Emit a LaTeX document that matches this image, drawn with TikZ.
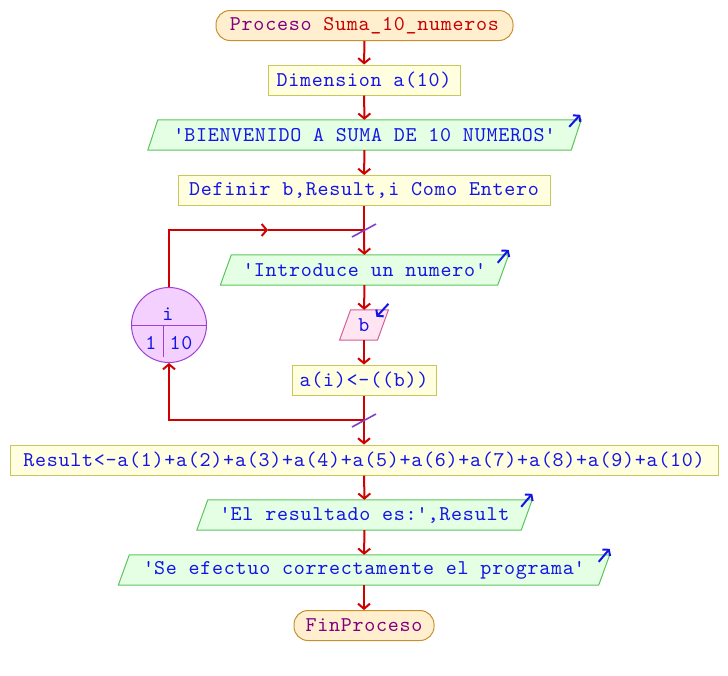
\documentclass[tikz,border=0pt]{standalone}
\usepackage{fontspec}
\setmonofont{lmmono10-regular}[Extension=.otf, LetterSpace=3.5, Ligatures=NoCommon]
\usetikzlibrary{arrows.meta,calc,backgrounds}

\definecolor{flowred}{HTML}{D00000}
\definecolor{txtblue}{HTML}{1414E6}
\definecolor{kwpurple}{HTML}{800080}
\definecolor{namered}{HTML}{C80000}
\definecolor{termfill}{HTML}{FFEFCF}
\definecolor{termline}{HTML}{C8902C}
\definecolor{procfill}{HTML}{FFFFE0}
\definecolor{procline}{HTML}{C8C85A}
\definecolor{iofill}{HTML}{E4FFE4}
\definecolor{ioline}{HTML}{5CC45C}
\definecolor{infill}{HTML}{FFE4F2}
\definecolor{inline}{HTML}{D0609A}
\definecolor{forfill}{HTML}{F4D0FF}
\definecolor{forline}{HTML}{A040D0}
\definecolor{joinmark}{HTML}{8040C8}

\newcommand\sq{\textquotesingle}

% parallelogram drawn behind a text node: #1 node, #2 half slant, #3 fill, #4 border
\newcommand\slantbox[4]{%
  \begin{scope}[on background layer]
    \draw[fill=#3, draw=#4, line width=1pt]
      ($(#1.north west)+(#2,0)$) -- ($(#1.north east)+(#2,0)$) --
      ($(#1.south east)-(#2,0)$) -- ($(#1.south west)-(#2,0)$) -- cycle;
  \end{scope}}

\begin{document}
\begin{tikzpicture}[x=1pt, y=-1pt,
  font=\ttfamily\fontsize{21}{24}\selectfont,
  link/.style={draw=flowred, line width=2pt},
  flow/.style={link, -{Straight Barb[length=5pt,width=12pt,line width=2pt]}},
  ioarrow/.style={draw=txtblue, line width=2pt, -{Straight Barb[length=4pt,width=10pt,line width=2pt]}},
  joinslash/.style={draw=joinmark, line width=1.6pt},
  term/.style={draw=termline, fill=termfill, line width=1pt, rounded corners=14pt,
    minimum height=30, inner sep=0pt, text=kwpurple},
  proc/.style={draw=procline, fill=procfill, line width=1pt,
    minimum height=30, inner sep=0pt, text=txtblue},
  iotext/.style={minimum height=30, inner sep=0pt, text=txtblue},
  loopnode/.style={circle, draw=forline, fill=forfill, line width=1pt,
    minimum size=75, inner sep=0pt}
]
\useasboundingbox (0,0) rectangle (728,675);

% main column
\node[term, minimum width=297] (start) at (364.5,25.5)
  {Proceso \textcolor{namered}{Suma\_10\_numeros}};
\node[proc, minimum width=192] (dim) at (364,80) {Dimension a(10)};
\node[iotext, minimum width=423] (welcome) at (364.5,135)
  {\sq BIENVENIDO A SUMA DE 10 NUMEROS\sq};
\slantbox{welcome}{5}{iofill}{ioline}
\node[proc, minimum width=372] (defs) at (364,190.5) {Definir b,Result,i Como Entero};

\coordinate (jtop) at (364,230);
\node[iotext, minimum width=277] (ask) at (364.5,270) {\sq Introduce un numero\sq};
\slantbox{ask}{5.5}{iofill}{ioline}
\node[iotext, minimum width=37.5] (readb) at (364,325) {b};
\slantbox{readb}{5.5}{infill}{inline}
\node[proc, minimum width=144] (store) at (364,380) {a(i)<-((b))};
\coordinate (jbot) at (364,420);

\node[proc, minimum width=708] (sum) at (364,460)
  {Result<-a(1)+a(2)+a(3)+a(4)+a(5)+a(6)+a(7)+a(8)+a(9)+a(10)};
\node[iotext, minimum width=324] (show) at (364.5,515) {\sq El resultado es:\sq,Result};
\slantbox{show}{5.5}{iofill}{ioline}
\node[iotext, minimum width=480] (done) at (364,570)
  {\sq Se efectuo correctamente el programa\sq};
\slantbox{done}{5.5}{iofill}{ioline}
\node[term, minimum width=140] (stop) at (364,625.5) {FinProceso};

% loop counter
\node[loopnode] (loop) at (169,325) {};
\draw[forline, line width=1pt] (loop.west) -- (loop.east);
\coordinate (lsplit) at (163.5,325);
\coordinate (lsplitend) at (163.5,357);
\draw[forline, line width=1pt] (lsplit) -- (lsplitend);
\node[text=txtblue, inner sep=0pt] (lvar) at (168,314) {i};
\node[text=txtblue, inner sep=0pt] (lfrom) at (151,343) {1};
\node[text=txtblue, inner sep=0pt] (lto) at (181,343) {10};

% connectors
\draw[flow] (start) -- (dim);
\draw[flow] (dim) -- (welcome);
\draw[flow] (welcome) -- (defs);
\draw[link] (defs) -- (jtop);
\draw[flow] (jtop) -- (ask);
\draw[flow] (ask) -- (readb);
\draw[flow] (readb) -- (store);
\draw[link] (store) -- (jbot);
\draw[flow] (jbot) -- (sum);
\draw[flow] (sum) -- (show);
\draw[flow] (show) -- (done);
\draw[flow] (done) -- (stop);

% loop back edges
\coordinate (lcorner) at (169,230);
\coordinate (lmid) at (268,230);
\draw[flow] (loop.north) -- (lcorner) -- (lmid);
\draw[link] (lmid) -- (jtop);
\coordinate (lbcorner) at (169,420);
\draw[flow] (jbot) -- (lbcorner) -- (loop.south);

% join marks
\draw[joinslash] ($(jtop)+(-12,7)$) -- ($(jtop)+(12,-6)$);
\draw[joinslash] ($(jbot)+(-12,7)$) -- ($(jbot)+(12,-6)$);

% output / input markers
\coordinate (w-c) at ($(welcome.north east)+(5,0)$);
\draw[ioarrow] ($(w-c)+(-12,7)$) -- ($(w-c)+(-1,-5)$);
\coordinate (a-c) at ($(ask.north east)+(5.5,0)$);
\draw[ioarrow] ($(a-c)+(-11,8)$) -- ($(a-c)+(0,-5)$);
\coordinate (s-c) at ($(show.north east)+(5.5,0)$);
\draw[ioarrow] ($(s-c)+(-11,7)$) -- ($(s-c)+(0,-6)$);
\coordinate (d-c) at ($(done.north east)+(5.5,0)$);
\draw[ioarrow] ($(d-c)+(-11,7)$) -- ($(d-c)+(0,-6)$);
\coordinate (b-c) at ($(readb.north east)+(5.5,0)$);
\draw[ioarrow] ($(b-c)+(0,-6)$) -- ($(b-c)+(-12,7)$);
\end{tikzpicture}
\end{document}
